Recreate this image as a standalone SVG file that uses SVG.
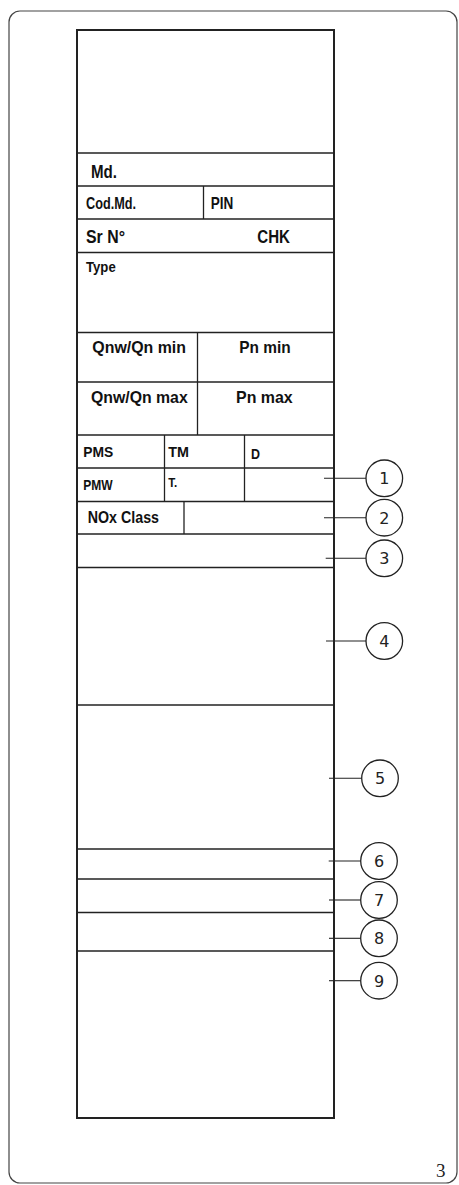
<svg xmlns="http://www.w3.org/2000/svg" width="459" height="1185" viewBox="0 0 459 1185">
<style>
.frame{fill:none;stroke:#444;stroke-width:1.2}
.box{fill:#fff;stroke:#222;stroke-width:2}
.div{stroke:#222;stroke-width:1.3;fill:none}
.lead{stroke:#222;stroke-width:1.1;fill:none}
.circ{fill:#fff;stroke:#222;stroke-width:1.3}
.lbl{font-family:"Liberation Sans",Arial,sans-serif;font-weight:bold;fill:#111}
.num{font-family:"DejaVu Sans","Liberation Sans",sans-serif;font-size:16px;fill:#222;text-anchor:middle}
.pg{font-family:"Liberation Serif","Times New Roman",serif;font-size:19px;fill:#222}
</style>
<rect class="frame" x="9" y="11" width="448" height="1172" rx="11"/>
<g id="plate">
<rect class="box" x="77" y="30" width="257" height="1088"/>
<g id="rows">
<line class="div" x1="77" y1="153" x2="334" y2="153"/>
<line class="div" x1="77" y1="186" x2="334" y2="186"/>
<line class="div" x1="77" y1="219" x2="334" y2="219"/>
<line class="div" x1="77" y1="252.5" x2="334" y2="252.5"/>
<line class="div" x1="77" y1="332.5" x2="334" y2="332.5"/>
<line class="div" x1="77" y1="382" x2="334" y2="382"/>
<line class="div" x1="77" y1="435" x2="334" y2="435"/>
<line class="div" x1="77" y1="468" x2="334" y2="468"/>
<line class="div" x1="77" y1="501.5" x2="334" y2="501.5"/>
<line class="div" x1="77" y1="534" x2="334" y2="534"/>
<line class="div" x1="77" y1="567.5" x2="334" y2="567.5"/>
<line class="div" x1="77" y1="705" x2="334" y2="705"/>
<line class="div" x1="77" y1="849" x2="334" y2="849"/>
<line class="div" x1="77" y1="879" x2="334" y2="879"/>
<line class="div" x1="77" y1="912.5" x2="334" y2="912.5"/>
<line class="div" x1="77" y1="951" x2="334" y2="951"/>
<line class="div" x1="203.5" y1="186" x2="203.5" y2="219"/>
<line class="div" x1="197.5" y1="332.5" x2="197.5" y2="435"/>
<line class="div" x1="164.5" y1="435" x2="164.5" y2="501.5"/>
<line class="div" x1="244.5" y1="435" x2="244.5" y2="501.5"/>
<line class="div" x1="184" y1="501.5" x2="184" y2="534"/>
</g>
<g id="labels">
<text class="lbl" x="91" y="177.5" font-size="17.5" textLength="26" lengthAdjust="spacingAndGlyphs">Md.</text>
<text class="lbl" x="86" y="209" font-size="16.5" textLength="50" lengthAdjust="spacingAndGlyphs">Cod.Md.</text>
<text class="lbl" x="210.7" y="209" font-size="16.5" textLength="22.6" lengthAdjust="spacingAndGlyphs">PIN</text>
<text class="lbl" x="86" y="242.7" font-size="17.5" textLength="39" lengthAdjust="spacingAndGlyphs">Sr N°</text>
<text class="lbl" x="257.3" y="242.7" font-size="17.5" textLength="32.7" lengthAdjust="spacingAndGlyphs">CHK</text>
<text class="lbl" x="86" y="272.3" font-size="14" textLength="29.7" lengthAdjust="spacingAndGlyphs">Type</text>
<text class="lbl" x="92.3" y="353.3" font-size="17" textLength="93.7" lengthAdjust="spacingAndGlyphs">Qnw/Qn min</text>
<text class="lbl" x="239.3" y="353.3" font-size="17" textLength="51.4" lengthAdjust="spacingAndGlyphs">Pn min</text>
<text class="lbl" x="91" y="403.3" font-size="17" textLength="96.7" lengthAdjust="spacingAndGlyphs">Qnw/Qn max</text>
<text class="lbl" x="236" y="403.3" font-size="17" textLength="56.7" lengthAdjust="spacingAndGlyphs">Pn max</text>
<text class="lbl" x="83.3" y="456.7" font-size="15.5" textLength="30" lengthAdjust="spacingAndGlyphs">PMS</text>
<text class="lbl" x="168.3" y="456.7" font-size="15.5" textLength="20.7" lengthAdjust="spacingAndGlyphs">TM</text>
<text class="lbl" x="251" y="459.3" font-size="15.5" textLength="9" lengthAdjust="spacingAndGlyphs">D</text>
<text class="lbl" x="83.3" y="490" font-size="15" textLength="29.4" lengthAdjust="spacingAndGlyphs">PMW</text>
<text class="lbl" x="168.3" y="486.7" font-size="12" textLength="9" lengthAdjust="spacingAndGlyphs">T.</text>
<text class="lbl" x="87.7" y="523.3" font-size="16.5" textLength="71.3" lengthAdjust="spacingAndGlyphs">NOx Class</text>
</g>
</g>
<g id="connectors">
<line class="lead" x1="324" y1="478.3" x2="366" y2="478.3"/>
<line class="lead" x1="324" y1="517.7" x2="366" y2="517.7"/>
<line class="lead" x1="325.7" y1="558.3" x2="366" y2="558.3"/>
<line class="lead" x1="326" y1="641" x2="366" y2="641"/>
<line class="lead" x1="329" y1="778.3" x2="361.7" y2="778.3"/>
<line class="lead" x1="328.7" y1="861" x2="360.7" y2="861"/>
<line class="lead" x1="329" y1="900" x2="360.7" y2="900"/>
<line class="lead" x1="329" y1="938.3" x2="360.7" y2="938.3"/>
<line class="lead" x1="329" y1="980.7" x2="360.7" y2="980.7"/>
</g>
<g id="c1"><circle class="circ" cx="384.3" cy="478.3" r="18.3"/><text class="num" x="384.3" y="484.3">1</text></g>
<g id="c2"><circle class="circ" cx="384.3" cy="517.7" r="18.3"/><text class="num" x="384.3" y="523.7">2</text></g>
<g id="c3"><circle class="circ" cx="384.3" cy="558.3" r="18.3"/><text class="num" x="384.3" y="564.3">3</text></g>
<g id="c4"><circle class="circ" cx="384.3" cy="641" r="18.3"/><text class="num" x="384.3" y="647">4</text></g>
<g id="c5"><circle class="circ" cx="380" cy="778.3" r="18.3"/><text class="num" x="380" y="784.3">5</text></g>
<g id="c6"><circle class="circ" cx="379" cy="861" r="18.3"/><text class="num" x="379" y="867">6</text></g>
<g id="c7"><circle class="circ" cx="379" cy="900" r="18.3"/><text class="num" x="379" y="906">7</text></g>
<g id="c8"><circle class="circ" cx="379" cy="938.3" r="18.3"/><text class="num" x="379" y="944.3">8</text></g>
<g id="c9"><circle class="circ" cx="379" cy="980.7" r="18.3"/><text class="num" x="379" y="986.7">9</text></g>
<text class="pg" x="436" y="1177">3</text>
</svg>
